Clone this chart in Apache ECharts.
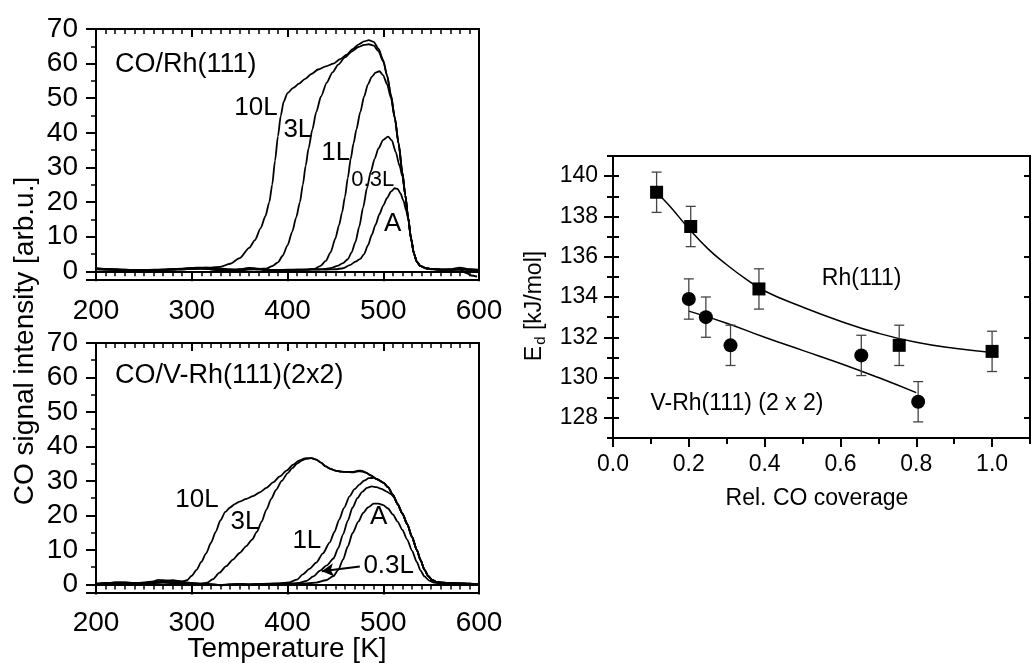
<!DOCTYPE html>
<html><head><meta charset="utf-8">
<script src="https://cdn.jsdelivr.net/npm/echarts/dist/echarts.min.js"></script>
<style>html,body{margin:0;padding:0;background:#fff}#c{width:1032px;height:663px}</style>
</head><body><div id="c"></div>
<script>
// ---------- DATA: TPD spectra, CO/Rh(111) (temperature K, intensity arb.u.) ----------
const rh10L = [[200,0.9],[210,0.7],[220,0.6],[230,0.5],[240,0.4],[250,0.4],[260,0.5],[270,0.5],[280,0.6],[290,0.7],[300,0.8],[310,1.0],[320,1.1],[330,1.3],[340,2.2],[350,3.8],[360,6.8],[366,9],[372,12.5],[377,16],[381,20],[384,25],[387,32],[390,39],[393,45],[396,49],[400,51.5],[406,53],[412,54.2],[418,55.5],[425,57],[432,58.3],[440,59.2],[448,60],[455,61.3],[462,62.6],[468,64.2],[474,65.5],[480,66.4],[485,66.8],[490,66.3],[495,64.3],[500,61],[504,56.5],[508,51],[512,44.5],[516,37],[520,28.5],[523,22],[526,15.5],[529,9.5],[532,5.2],[535,2.8],[539,1.5],[545,0.9],[550,0.7],[560,0.5],[570,0.6],[580,1.1],[590,0.6],[600,0.4]];
const rh3L = [[200,0.8],[210,0.6],[220,0.5],[230,0.4],[240,0.3],[250,0.3],[260,0.4],[270,0.5],[280,0.5],[290,0.6],[300,0.7],[310,0.8],[320,0.6],[330,0.2],[340,-0.2],[350,0.1],[360,0.6],[370,0.7],[378,0.8],[384,1.5],[390,2.6],[395,4.5],[400,7.5],[405,11.5],[409,15.5],[413,20],[416,25],[419,30.5],[422,35.5],[426,41],[430,46],[435,50.5],[441,54.5],[447,57.5],[453,59.7],[460,61.8],[467,63.5],[474,64.8],[480,65.4],[485,65.6],[490,65.2],[495,63.6],[500,60.6],[504,56.5],[508,51],[512,44.5],[516,37],[520,28.5],[523,22],[526,15.5],[529,9.5],[532,5.2],[535,2.8],[539,1.5],[545,0.8],[550,0.6],[560,0.5],[570,0.5],[580,0.6],[586,-0.4],[592,-1.2],[598,-1.5]];
const rh1L = [[200,0.6],[210,0.5],[220,0.4],[230,0.4],[240,0.3],[250,0.2],[260,0.3],[270,0.4],[280,0.6],[290,0.8],[300,1.0],[310,1.1],[320,1.0],[330,0.8],[340,0.6],[350,0.5],[360,0.9],[370,0.8],[380,0.4],[390,0.3],[400,0.4],[410,0.5],[420,0.5],[428,0.7],[434,1.5],[440,3],[445,5.5],[450,9.5],[454,13.5],[457,17],[460,21.5],[463,27],[466,32.5],[469,37],[472,41],[476,46],[480,50.5],[484,54],[488,56.2],[492,57.4],[496,57.8],[500,56.6],[504,54],[508,50.2],[512,44.3],[516,36.8],[520,28.4],[523,22],[526,15.5],[529,9.5],[532,5.2],[535,2.8],[539,1.5],[545,0.9],[550,0.7],[560,0.5],[570,0.4],[580,0.5],[590,0.5],[600,0.5]];
const rh03L = [[200,0.7],[210,0.6],[220,0.5],[230,0.4],[240,0.4],[250,0.3],[260,0.3],[270,0.4],[280,0.5],[290,0.6],[300,0.7],[310,0.8],[320,0.6],[330,0.3],[340,0.2],[350,0.6],[360,1.0],[370,0.7],[380,0.2],[390,0.3],[400,0.4],[410,0.4],[420,0.5],[430,0.6],[440,0.7],[446,1.0],[452,1.6],[458,2.4],[463,3.5],[467,5.5],[471,8.5],[475,13],[479,18.5],[483,24],[487,28.8],[491,32.5],[495,35.5],[500,38],[505,38.9],[509,37.8],[513,34.5],[517,30.5],[520,27.5],[523,22],[526,15.5],[529,9.5],[532,5.2],[535,2.8],[539,1.5],[545,0.9],[550,0.7],[560,0.5],[570,0.5],[580,0.6],[590,0.4],[600,0.3]];
const rhA = [[200,0.7],[210,0.6],[220,0.5],[230,0.5],[240,0.4],[250,0.4],[260,0.4],[270,0.5],[280,0.6],[290,0.6],[300,0.8],[310,0.9],[320,0.7],[330,0.5],[340,0.4],[350,0.5],[360,0.6],[370,0.5],[380,0.4],[390,0.4],[400,0.5],[410,0.5],[420,0.5],[430,0.5],[440,0.5],[450,0.6],[458,0.9],[465,1.8],[471,2.8],[476,3.6],[480,5],[484,7.5],[488,10.5],[492,13.5],[496,16.5],[500,19],[504,21.2],[508,23],[512,24],[515,23.8],[518,22.5],[521,20.5],[524,17.5],[526,15.3],[529,9.5],[532,5.2],[535,2.8],[539,1.5],[545,0.9],[550,0.7],[560,0.5],[570,0.5],[580,0.6],[590,0.5],[600,0.4]];

// ---------- DATA: TPD spectra, CO/V-Rh(111)(2x2) ----------
const vr10L = [[200,0.1],[210,0.3],[220,0.6],[230,0.5],[240,0.3],[250,0.5],[260,0.9],[265,1.3],[270,1.2],[280,1.0],[290,0.9],[295,1.2],[300,2.5],[305,4.2],[310,6.5],[315,9],[320,12],[325,15.2],[330,18.6],[335,21],[340,22.3],[345,23.3],[350,24],[357,24.8],[364,25.6],[371,26.7],[378,28],[385,29.6],[392,31.3],[399,33],[406,34.7],[412,35.9],[418,36.5],[425,36.6],[430,36.2],[435,35.3],[440,34.2],[445,33.5],[450,33],[456,32.7],[462,32.6],[468,32.6],[474,33.0],[478,32.9],[482,32.4],[487,31.6],[493,30.6],[500,29.5],[505,28.2],[510,26],[515,23.3],[520,20.5],[525,17.5],[530,13.8],[535,10],[539,7],[543,4.3],[547,2.4],[551,1.3],[556,0.7],[562,0.5],[570,0.4],[580,0.3],[590,0.1],[600,-0.1]];
const vr3L = [[200,0.2],[210,0.3],[220,0.5],[230,0.6],[240,0.4],[250,0.4],[260,0.6],[270,0.9],[280,1.2],[290,0.8],[300,0.4],[310,0.2],[316,0.5],[322,1.5],[329,3.4],[336,5.3],[343,7.2],[350,9.1],[357,11.1],[363,13],[368,15.2],[373,18.2],[378,21.7],[383,24.8],[388,27.4],[394,30],[400,32.2],[405,33.7],[410,35],[415,35.9],[420,36.5],[425,36.6],[430,36.2],[435,35.3],[440,34.2],[445,33.5],[450,33],[456,32.7],[462,32.6],[468,32.5],[474,32.8],[478,32.7],[482,32.4],[487,31.6],[493,30.6],[500,29.5],[505,28.2],[510,26],[515,23.3],[520,20.5],[525,17.5],[530,13.8],[535,10],[539,7],[543,4.3],[547,2.4],[551,1.3],[556,0.7],[562,0.5],[570,0.4],[580,0.3],[590,0.2],[600,0.0]];
const vr1L = [[200,0.2],[210,0.4],[220,0.5],[230,0.4],[240,0.3],[250,0.5],[260,0.7],[270,0.8],[280,0.6],[290,0.4],[300,0.3],[310,0.2],[320,0.1],[330,-0.3],[340,0.0],[350,0.1],[360,0.0],[370,0.1],[380,0.2],[390,0.3],[396,0.4],[402,0.6],[410,1.4],[416,2.9],[423,4.5],[430,6.3],[437,9],[444,12.1],[449,15.2],[454,18.8],[459,22.2],[465,25.6],[470,27.6],[475,28.9],[480,30.1],[485,30.8],[490,30.9],[495,30.3],[500,29.5],[505,28.2],[510,26],[515,23.3],[520,20.5],[525,17.5],[530,13.8],[535,10],[539,7],[543,4.3],[547,2.4],[551,1.3],[556,0.7],[562,0.5],[570,0.4],[580,0.2],[590,0.2],[600,0.0]];
const vr03L = [[200,0.1],[210,0.3],[220,0.4],[230,0.5],[240,0.4],[250,0.3],[260,0.5],[270,0.6],[280,0.5],[290,0.4],[300,0.2],[310,0.1],[320,0.0],[330,-0.2],[340,-0.1],[350,0.1],[360,0.0],[370,0.1],[380,0.1],[390,0.2],[400,0.2],[406,0.3],[412,0.4],[420,1],[427,2.3],[434,4],[441,5.5],[448,7.5],[453,10.5],[458,14.5],[463,18.5],[468,22.3],[473,25],[478,26.8],[483,28],[488,28.4],[493,28.2],[498,27.7],[503,27],[508,26.2],[512,25],[515,23.3],[520,20.5],[525,17.5],[530,13.8],[535,10],[539,7],[543,4.3],[547,2.4],[551,1.3],[556,0.7],[562,0.5],[570,0.3],[580,0.3],[590,0.1],[600,-0.1]];
const vrA = [[200,0.0],[210,0.2],[220,0.4],[230,0.4],[240,0.3],[250,0.3],[260,0.4],[270,0.5],[280,0.4],[290,0.3],[300,0.2],[310,0.1],[320,-0.1],[330,-0.2],[340,0.0],[350,0.0],[360,-0.1],[370,0.0],[380,0.1],[390,0.1],[400,0.2],[410,0.2],[420,0.3],[430,0.5],[440,1.2],[448,2.4],[453,4.2],[458,7.2],[463,11],[468,14.9],[474,18.2],[479,20.7],[484,22.3],[490,23.4],[495,23.4],[500,23],[505,22],[510,20.3],[515,18.2],[520,15.8],[525,13],[530,9.8],[535,6.5],[539,4],[543,2.3],[548,1.1],[553,0.5],[560,0.3],[570,0.2],[580,0.1],[590,0.2],[600,0.0]];

// ---------- DATA: desorption energy vs relative CO coverage ----------
const rhCov = [0.115, 0.205, 0.385, 0.755, 1.0];
const rhEd = [139.2, 137.5, 134.4, 131.6, 131.3];
const rhErr = [1.0, 1.0, 1.0, 1.0, 1.0];
const vCov = [0.2, 0.245, 0.31, 0.655, 0.805];
const vEd = [133.9, 133.0, 131.6, 131.1, 128.8];
const vErr = [1.0, 1.0, 1.0, 1.0, 1.0];
const rhFitCov = [0.12, 0.15, 0.2, 0.25, 0.3, 0.35, 0.4, 0.5, 0.6, 0.7, 0.8, 0.9, 1.0];
const rhFitEd = [139.1, 138.5, 137.4, 136.4, 135.6, 134.9, 134.3, 133.5, 132.8, 132.2, 131.75, 131.45, 131.25];
const vFitCov = [0.2, 0.3, 0.4, 0.5, 0.6, 0.7, 0.8];
const vFitEd = [133.3, 132.7, 132.0, 131.35, 130.7, 130.0, 129.25];

// ---------- annotations (text, data x, data y) ----------
const topTexts = [['CO/Rh(111)', 219.8, 59.6], ['10L', 367, 47.2], ['3L', 410.8, 40.8], ['1L', 450.4, 34.1], ['0.3L', 489, 26.3], ['A', 509.9, 13.6]];
const botTexts = [['CO/V-Rh(111)(2x2)', 219.8, 60.5], ['10L', 305.4, 24.6], ['3L', 355.5, 18.2], ['1L', 420.2, 12.7], ['A', 495.3, 19.7], ['0.3L', 505.7, 5.5]];
const botArrow = [[475.5, 5.2], [435.8, 3.8]];
const rightTexts = [['Rh(111)', 0.656, 134.9], ['V-Rh(111) (2 x 2)', 0.327, 128.7]];

const FONT = '"Liberation Sans", Arial, Helvetica, sans-serif';
const BLACK = '#000';

function lineSeries(data, xi, yi) {
  return {type:'line', data, xAxisIndex:xi, yAxisIndex:yi, showSymbol:false, symbol:'none',
    smooth:0.25, smoothMonotone:'x', lineStyle:{color:BLACK, width:1.8, opacity:1}, silent:true, z:3, animation:false};
}
function textSeries(items, xi, yi, sizes, aligns) {
  return {type:'scatter', xAxisIndex:xi, yAxisIndex:yi, symbolSize:1, silent:true, z:6,
    itemStyle:{color:'rgba(0,0,0,0)', opacity:1},
    data: items.map((it, i) => ({name: it[0], value:[it[1], it[2]],
      label:{fontSize: sizes[i], align: aligns[i]}})),
    label:{show:true, position:'inside', formatter:'{b}', color:BLACK, opacity:1, textBorderWidth:0, fontFamily:FONT, verticalAlign:'middle'}};
}
function errSeries(xs, ys, es) {
  return {type:'custom', xAxisIndex:4, yAxisIndex:2, silent:true, z:4,
    data: xs.map((x, i) => [x, ys[i], es[i]]),
    renderItem: function (params, api) {
      const x = api.value(0), y = api.value(1), e = api.value(2);
      const t = api.coord([x, y + e]), b = api.coord([x, y - e]);
      const hw = 5, st = {stroke:'#444', lineWidth:1.3};
      return {type:'group', children:[
        {type:'line', shape:{x1:t[0], y1:t[1], x2:b[0], y2:b[1]}, style:st},
        {type:'line', shape:{x1:t[0]-hw, y1:t[1], x2:t[0]+hw, y2:t[1]}, style:st},
        {type:'line', shape:{x1:b[0]-hw, y1:b[1], x2:b[0]+hw, y2:b[1]}, style:st}
      ]};
    }};
}

const axLine = {show:true, lineStyle:{color:BLACK, width:2}};
const noSplit = {show:false};
const lbl = (size, margin, extra) => Object.assign({show:true, fontSize:size, fontFamily:FONT, color:BLACK, margin:margin}, extra || {});
const tick = (len, inside, w) => ({show:true, length:len, inside:!!inside, lineStyle:{color:BLACK, width:w || 2}});

function tempAxes(g, m) {
  return [
    {type:'value', gridIndex:g, position:'bottom', min:200, max:600, interval:100, axisLine:axLine,
      axisTick:tick(10, false), minorTick:{show:true, splitNumber:10, length:5, lineStyle:{color:BLACK, width:1.5}},
      axisLabel:lbl(28, m), splitLine:noSplit, minorSplitLine:noSplit},
    {type:'value', gridIndex:g, position:'top', min:200, max:600, interval:100, axisLine:axLine,
      axisTick:tick(8, true), minorTick:{show:true, splitNumber:10, length:5, lineStyle:{color:BLACK, width:1.5}},
      axisLabel:{show:false}, splitLine:noSplit, minorSplitLine:noSplit}
  ];
}
function intAxis(g) {
  return {type:'value', gridIndex:g, position:'left', min:-2.5, max:70, minInterval:10, maxInterval:10, axisLine:axLine,
    axisTick:tick(10, false), minorTick:{show:true, splitNumber:2, length:5, lineStyle:{color:BLACK, width:1.5}},
    axisLabel:lbl(28, 18, {showMinLabel:false}), splitLine:noSplit, minorSplitLine:noSplit};
}

const gridBase = {show:true, borderColor:BLACK, borderWidth:2, backgroundColor:'transparent', containLabel:false, outerBoundsMode:'none'};
const rightGrid = {left:613, top:156, width:417, height:282};

const option = {
  animation:false,
  backgroundColor:'#fff',
  textStyle:{fontFamily:FONT},
  grid:[
    Object.assign({left:96, top:29, width:383, height:251}, gridBase),
    Object.assign({left:96, top:343, width:383, height:250}, gridBase),
    Object.assign({}, rightGrid, gridBase),
    Object.assign({}, rightGrid, {show:false, containLabel:false, outerBoundsMode:'none'}),
    Object.assign({}, rightGrid, {show:false, containLabel:false, outerBoundsMode:'none'})
  ],
  xAxis:[
    ...tempAxes(0, 17),
    ...tempAxes(1, 16),
    {type:'value', gridIndex:2, position:'bottom', min:0, max:1.1, minInterval:0.2, maxInterval:0.2, axisLine:axLine,
      axisTick:tick(9, false), axisLabel:lbl(23, 15, {showMaxLabel:false, formatter:v => v.toFixed(1)}),
      splitLine:noSplit},
    {type:'value', gridIndex:3, position:'bottom', min:0, max:1.1, interval:0.1, axisLine:{show:false},
      axisTick:tick(6, false), axisLabel:{show:false}, splitLine:noSplit},
    {type:'value', gridIndex:4, position:'bottom', min:0, max:1.1, show:false, splitLine:noSplit}
  ],
  yAxis:[
    intAxis(0),
    intAxis(1),
    {type:'value', gridIndex:2, position:'left', min:127, max:141, minInterval:2, maxInterval:2, axisLine:axLine,
      axisTick:tick(9, false), axisLabel:lbl(23, 15, {showMinLabel:false, showMaxLabel:false}), splitLine:noSplit},
    {type:'value', gridIndex:2, position:'right', min:127, max:141, minInterval:2, maxInterval:2, axisLine:axLine,
      axisTick:tick(6, true), axisLabel:{show:false}, splitLine:noSplit},
    {type:'value', gridIndex:3, position:'left', min:127, max:141, interval:1, axisLine:{show:false},
      axisTick:tick(6, false), axisLabel:{show:false}, splitLine:noSplit},
    {type:'value', gridIndex:4, position:'left', min:127, max:141, interval:1, axisLine:{show:false},
      axisTick:tick(6, true), axisLabel:{show:false}, splitLine:noSplit}
  ],
  series:[
    lineSeries(rh10L, 0, 0), lineSeries(rh3L, 0, 0), lineSeries(rh1L, 0, 0), lineSeries(rh03L, 0, 0), lineSeries(rhA, 0, 0),
    lineSeries(vr10L, 2, 1), lineSeries(vr3L, 2, 1), lineSeries(vr1L, 2, 1), lineSeries(vrA, 2, 1),
    Object.assign(lineSeries(vr03L, 2, 1), {markLine:{silent:true, symbol:['none','arrow'], symbolSize:[10, 12],
      lineStyle:{color:BLACK, width:2, type:'solid'}, label:{show:false},
      data:[[{coord:botArrow[0]}, {coord:botArrow[1]}]]}}),
    textSeries(topTexts, 0, 0, [27, 26, 26, 26, 22, 26], ['left','center','center','center','center','center']),
    textSeries(botTexts, 2, 1, [27, 26, 26, 26, 26, 26], ['left','center','center','center','center','center']),
    textSeries(rightTexts, 4, 2, [23, 23], ['center','center']),
    Object.assign(lineSeries(rhFitCov.map((x, i) => [x, rhFitEd[i]]), 4, 2), {smooth:0.5, smoothMonotone:null, lineStyle:{color:BLACK, width:1.5}}),
    Object.assign(lineSeries(vFitCov.map((x, i) => [x, vFitEd[i]]), 4, 2), {smooth:0.5, smoothMonotone:null, lineStyle:{color:BLACK, width:1.5}}),
    errSeries(rhCov, rhEd, rhErr),
    errSeries(vCov, vEd, vErr),
    {type:'scatter', xAxisIndex:4, yAxisIndex:2, symbol:'rect', symbolSize:13, itemStyle:{color:BLACK, opacity:1}, silent:true, z:5,
      data: rhCov.map((x, i) => [x, rhEd[i]])},
    {type:'scatter', xAxisIndex:4, yAxisIndex:2, symbol:'circle', symbolSize:14, itemStyle:{color:BLACK, opacity:1}, silent:true, z:5,
      data: vCov.map((x, i) => [x, vEd[i]])}
  ],
  graphic:[
    {type:'text', x:25, y:341, rotation:Math.PI/2, silent:true,
      style:{text:'CO signal intensity [arb.u.]', fontSize:28, fontFamily:FONT, fill:BLACK, align:'center', verticalAlign:'middle', textAlign:'center', textVerticalAlign:'middle'}},
    {type:'text', x:287, y:649, silent:true,
      style:{text:'Temperature [K]', fontSize:28, fontFamily:FONT, fill:BLACK, align:'center', verticalAlign:'middle', textAlign:'center', textVerticalAlign:'middle'}},
    {type:'text', x:817, y:499, silent:true,
      style:{text:'Rel. CO coverage', fontSize:23, fontFamily:FONT, fill:BLACK, align:'center', verticalAlign:'middle', textAlign:'center', textVerticalAlign:'middle'}},
    {type:'text', x:535, y:306, rotation:Math.PI/2, silent:true,
      style:{text:'{e|E}{d|d}{e| [kJ/mol]}', fill:BLACK, align:'center', verticalAlign:'middle', textAlign:'center', textVerticalAlign:'middle',
        rich:{e:{fontSize:23, fontFamily:FONT, fill:BLACK, lineHeight:26}, d:{fontSize:15, fontFamily:FONT, fill:BLACK, verticalAlign:'bottom', lineHeight:16, padding:[14,0,0,1]}}}}
  ]
};
const chart = echarts.init(document.getElementById('c'), null, {renderer:'canvas'});
chart.setOption(option);
</script></body></html>
